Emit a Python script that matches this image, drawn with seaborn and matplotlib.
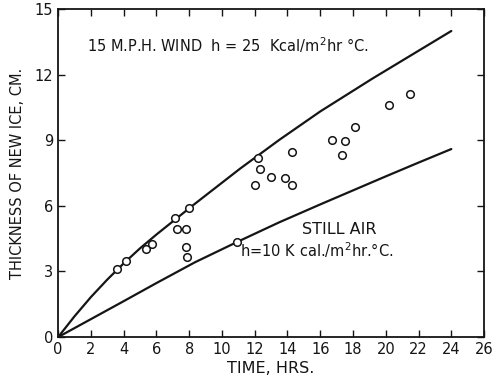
import matplotlib
matplotlib.use("Agg")
import matplotlib.pyplot as plt
import seaborn as sns

# Curves
wind_t = [0, 1.0, 2.0, 3.0, 4.0, 5.0, 6.0, 8.2, 11.1, 13.5, 16.0, 19.2, 24.0]
wind_y = [0, 0.95, 1.83, 2.63, 3.37, 4.06, 4.69, 6.01, 7.7, 9.02, 10.32, 11.83, 14.0]
still_t = [0, 2.0, 3.9, 6.0, 8.35, 10.9, 13.5, 16.1, 20.0, 22.0, 24.0]
still_y = [0, 0.82, 1.6, 2.47, 3.42, 4.34, 5.25, 6.1, 7.35, 7.98, 8.6]

# Measured points
obs_t = [3.6, 4.15, 5.37, 5.73, 7.13, 7.99, 7.26, 7.80, 7.80, 7.87, 10.9,
         12.0, 12.2, 12.3, 13.0, 13.84, 14.27, 14.27, 16.7, 17.5, 18.1, 17.3,
         20.2, 21.5]
obs_y = [3.1, 3.47, 4.02, 4.25, 5.43, 5.89, 4.93, 4.93, 4.11, 3.65, 4.34,
         6.94, 8.17, 7.67, 7.31, 7.26, 6.94, 8.45, 9.0, 8.95, 9.63, 8.31,
         10.6, 11.14]

x_ticks = list(range(0, 27, 2))
y_ticks = [0, 3, 6, 9, 12, 15]

sns.set_style("ticks")
plt.rcParams['font.family'] = ['DejaVu Sans']

fig = plt.figure(figsize=(4.97, 3.80), dpi=100)
ax = fig.add_axes([0.117, 0.113, 0.857, 0.863])

ink = "#151515"
sns.lineplot(x=wind_t, y=wind_y, ax=ax, color=ink, lw=1.6, sort=False)
sns.lineplot(x=still_t, y=still_y, ax=ax, color=ink, lw=1.6, sort=False)
sns.scatterplot(x=obs_t, y=obs_y, ax=ax, s=30, facecolor="white",
                edgecolor=ink, linewidth=1.1, zorder=3)

ax.set_xlim(0, 26)
ax.set_ylim(0, 15)
ax.set_xticks(x_ticks)
ax.set_yticks(y_ticks)
ax.tick_params(direction="in", top=True, right=True, length=5,
               width=1, labelsize=10.5, colors=ink)
for s in ax.spines.values():
    s.set_linewidth(1.3)
    s.set_color(ink)

ax.set_xlabel("TIME, HRS.", fontsize=11.5, color=ink, labelpad=3)
ax.set_ylabel("THICKNESS OF NEW ICE, CM.", fontsize=10.5, color=ink, labelpad=7)

ax.text(1.75, 13.05, "15 M.P.H. WIND  h = 25  Kcal/m$^2$hr °C.", fontsize=10.5, color=ink)
ax.text(14.9, 4.7, "STILL AIR", fontsize=11.5, color=ink)
ax.text(11.1, 3.65, "h=10 K cal./m$^2$hr.°C.", fontsize=10.5, color=ink)

fig.savefig("out.png", dpi=100)
